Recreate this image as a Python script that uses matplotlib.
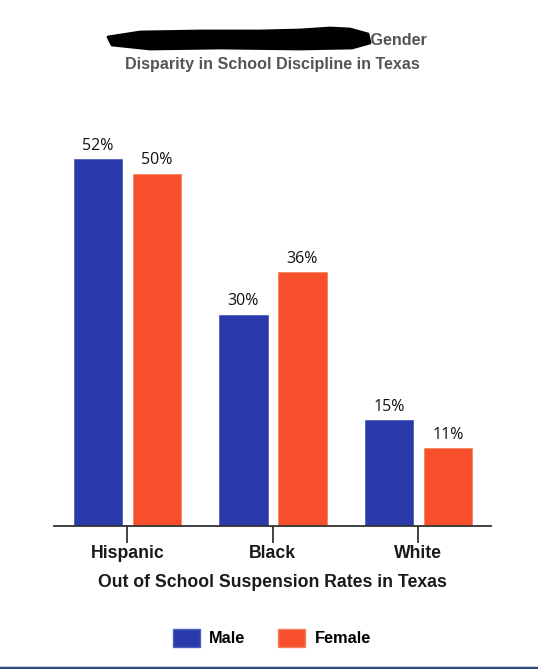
import numpy as np
import matplotlib
matplotlib.use('Agg')
import matplotlib.pyplot as plt
from matplotlib.patches import Patch, Polygon
from matplotlib.lines import Line2D

groups = ['Hispanic', 'Black', 'White']
male = [52, 30, 15]
female = [50, 36, 11]
series = ['Male', 'Female']

blue = '#2A3AAB'
orange = '#F8502D'

fig = plt.figure(figsize=(5.38, 6.69), dpi=100)
ax = fig.add_axes([54/538, 143/669, 437/538, 423/669])

x = np.arange(len(groups))
w = 0.333
off = 0.203
b1 = ax.bar(x - off, male, w, color=blue, edgecolor='#5060C0', linewidth=0.6)
b2 = ax.bar(x + off, female, w, color=orange, edgecolor='#F88060', linewidth=0.6)

for bars, vals in [(b1, male), (b2, female)]:
    for r, v in zip(bars, vals):
        ax.annotate(f'{v}%', (r.get_x() + r.get_width() / 2, v), xytext=(0, 4),
                    textcoords='offset points', ha='center', va='bottom',
                    fontsize=11.5, family='Open Sans', fontweight='medium', color='#111111')

ax.set_xlim(-0.505, 2.5)
ax.set_ylim(0, 60)
for s in ['top', 'right', 'left']:
    ax.spines[s].set_visible(False)
ax.spines['bottom'].set_color('#333333')
ax.spines['bottom'].set_linewidth(1.3)
ax.set_yticks([])
ax.set_xticks(x)
ax.set_xticklabels(groups, fontsize=12.7, fontweight='bold', family='Liberation Sans', color='#1a1a1a')
ax.tick_params(axis='x', length=12, width=1.3, color='#333333', pad=2)
ax.set_xlabel('Out of School Suspension Rates in Texas', fontsize=12.7, fontweight='bold',
              family='Liberation Sans', color='#1a1a1a', labelpad=8)

handles = [Patch(facecolor=blue, edgecolor='#5060C0'), Patch(facecolor=orange, edgecolor='#F88060')]
fig.legend(handles, series, loc='center', bbox_to_anchor=(272/538, 1 - 638/669), ncol=2,
           frameon=False, handlelength=1.6, handleheight=1.3, handletextpad=0.6, columnspacing=2.0,
           prop={'family': 'Liberation Sans', 'weight': 'bold', 'size': 11.8})

# title (first part is scribbled out in the reference)
tkw = dict(fontsize=11.6, fontweight='bold', family='Liberation Sans', color='#555555')
fig.text(427/538, 1 - 41/669, 'How Race Can Impact Gender', ha='right', va='center', **tkw)
fig.text(272/538, 1 - 64/669, 'Disparity in School Discipline in Texas', ha='center', va='center', **tkw)
px = np.array([108, 140, 200, 260, 300, 330, 350, 368, 370, 352, 300, 220, 150, 112]) / 538
py = 1 - np.array([37, 32, 31, 31, 30, 28, 29, 34, 43, 48, 49, 48, 49, 45]) / 669
fig.add_artist(Polygon(np.column_stack([px, py]), closed=True, facecolor='black',
                       edgecolor='black', linewidth=2, joinstyle='round', zorder=10,
                       transform=fig.transFigure))

fig.add_artist(Line2D([0, 1], [1.5/669, 1.5/669], color='#2D4A80', linewidth=2.5,
                      transform=fig.transFigure))

fig.savefig('out.png', dpi=100)
